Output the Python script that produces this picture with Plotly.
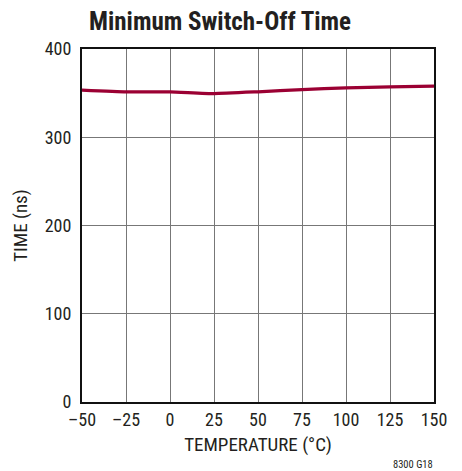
import plotly.graph_objects as go

temperature = [-50, -25, 0, 25, 50, 75, 100, 125, 150]
time_ns = [353.5, 351.5, 351.5, 349.5, 351.5, 354, 356, 357, 358]
x_ticks = [-50, -25, 0, 25, 50, 75, 100, 125, 150]
x_tick_labels = ["–50", "–25", "0", "25", "50", "75", "100", "125", "150"]
y_ticks = [0, 100, 200, 300, 400]

FONT = "Liberation Sans Narrow, Roboto Condensed, Arial Narrow, sans-serif"

fig = go.Figure()
fig.add_trace(go.Scatter(x=temperature, y=time_ns, mode="lines",
                         line=dict(color="#9b0033", width=3.2, shape="spline", smoothing=0.4),
                         showlegend=False, hoverinfo="skip"))

fig.update_layout(
    width=454, height=463,
    margin=dict(l=74, r=28, t=41, b=69),
    paper_bgcolor="white", plot_bgcolor="white",
    font=dict(family=FONT, color="#231f20"),
    title=dict(text="<b>Minimum Switch-Off Time</b>", x=0.467, xanchor="center",
               y=0.972, yanchor="middle", font=dict(size=25, family=FONT, color="#231f20")),
    xaxis=dict(range=[-50, 150], tickvals=x_ticks, ticktext=x_tick_labels,
               showgrid=True, gridcolor="#777777", gridwidth=1,
               showline=True, linecolor="#111111", linewidth=2, mirror=True,
               ticks="", zeroline=False, tickfont=dict(size=18),
               title=dict(text="TEMPERATURE (°C)", font=dict(size=19), standoff=9)),
    yaxis=dict(range=[0, 400], tickvals=y_ticks, ticklabelstandoff=5,
               showgrid=True, gridcolor="#777777", gridwidth=1,
               showline=True, linecolor="#111111", linewidth=2, mirror=True,
               ticks="", zeroline=False, tickfont=dict(size=18),
               title=dict(text="TIME (ns)", font=dict(size=19), standoff=12)),
)
fig.add_annotation(text="8300 G18", x=1.003, y=-0.178, xref="paper", yref="paper",
                   xanchor="right", yanchor="middle", showarrow=False,
                   font=dict(size=10.5, family=FONT, color="#231f20"))
fig.write_html("out.html")
